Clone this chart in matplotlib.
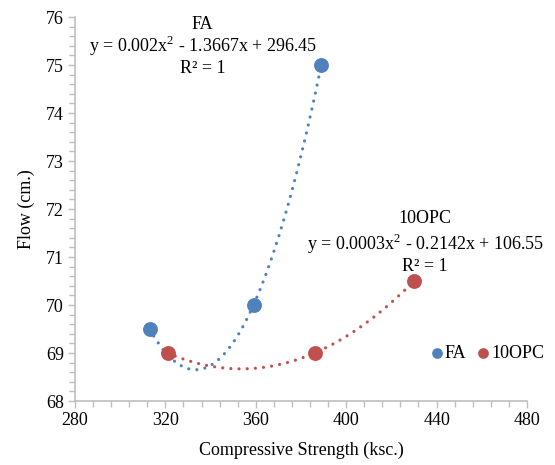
"""Flow vs compressive strength with quadratic trendlines."""

import numpy as np
import matplotlib
matplotlib.use('Agg')
import matplotlib.pyplot as plt
from matplotlib.ticker import MultipleLocator

# data
fa_strength = [313, 359, 389]
fa_flow = [69.5, 70.0, 75.0]
opc_strength = [321, 386, 430]
opc_flow = [69.0, 69.0, 70.5]

fa_eq = 'y = 0.002x$^2$ - 1.3667x + 296.45'
opc_eq = 'y = 0.0003x$^2$ - 0.2142x + 106.55'

BLUE = '#4F81BD'
RED = '#C0504D'
GREY = '#BFBFBF'
FS = 13

plt.rcParams['font.family'] = ['Liberation Serif', 'DejaVu Serif']
plt.rcParams['mathtext.fontset'] = 'custom'
plt.rcParams['mathtext.rm'] = 'Liberation Serif'

fig = plt.figure(figsize=(5.55, 4.65), dpi=100)
ax = fig.add_axes([0.1351, 0.1376, 0.8144, 0.8258])


def trend(ax, x, y, color):
    # Excel style 2nd order polynomial trendline, dotted
    coef = np.polyfit(x, y, 2)
    xs = np.linspace(min(x), max(x), 200)
    ax.plot(xs, np.polyval(coef, xs), color=color, lw=2.3,
            linestyle=(0, (0.01, 2.55)), dash_capstyle='round', zorder=2)


trend(ax, fa_strength, fa_flow, BLUE)
trend(ax, opc_strength, opc_flow, RED)
ax.scatter(fa_strength, fa_flow, s=115, color=BLUE, zorder=3, label='FA',
           linewidths=0)
ax.scatter(opc_strength, opc_flow, s=115, color=RED, zorder=3, label='10OPC',
           linewidths=0)

ax.set_xlim(280, 480)
ax.set_ylim(68, 76)
ax.xaxis.set_major_locator(MultipleLocator(40))
ax.xaxis.set_minor_locator(MultipleLocator(8))
ax.yaxis.set_major_locator(MultipleLocator(1))
ax.yaxis.set_minor_locator(MultipleLocator(0.2))

for side in ['top', 'right']:
    ax.spines[side].set_visible(False)
for side in ['left', 'bottom']:
    ax.spines[side].set_color(GREY)
    ax.spines[side].set_linewidth(1.2)
ax.tick_params(which='both', color=GREY, width=1.0, labelsize=FS,
               direction='out')
ax.tick_params(which='major', length=5, pad=3)
ax.tick_params(which='minor', length=4)

ax.set_xlabel('Compressive Strength (ksc.)', fontsize=FS, labelpad=9)
ax.set_ylabel('Flow (cm.)', fontsize=FS, labelpad=8)

# trendline labels, one line each
for txt, y in zip(['FA', fa_eq, 'R² = 1'], [75.84, 75.40, 74.93]):
    ax.text(336.5, y, txt, ha='center', va='center', fontsize=FS)
for txt, y in zip(['10OPC', opc_eq, 'R² = 1'], [71.81, 71.27, 70.81]):
    ax.text(435, y, txt, ha='center', va='center', fontsize=FS)

ax.legend(loc='center left', bbox_to_anchor=(0.782, 0.125), ncol=2,
          frameon=False, fontsize=FS, handletextpad=0.0, handlelength=0.9,
          columnspacing=0.5, markerscale=0.72, borderpad=0,
          borderaxespad=0)

fig.savefig('out.png', dpi=100)
